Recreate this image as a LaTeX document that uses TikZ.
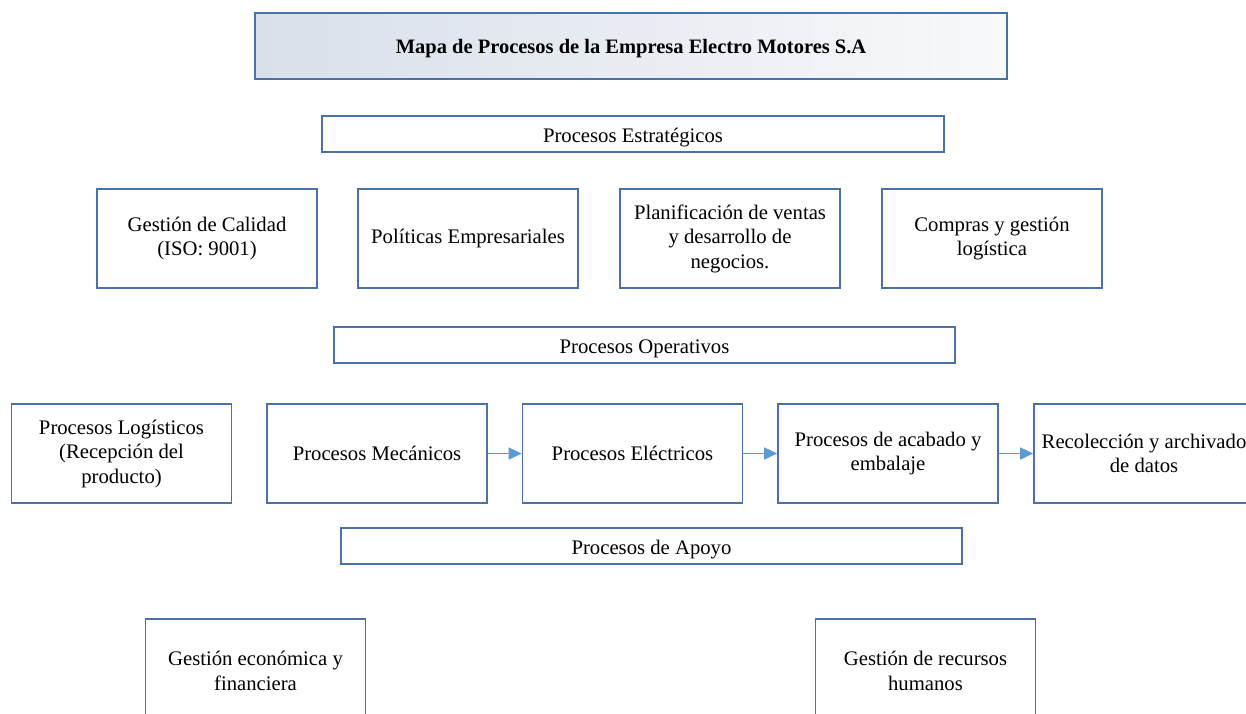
\documentclass[tikz,border=0pt]{standalone}
\usepackage{fontspec}
\setmainfont{Liberation Serif}
\usetikzlibrary{arrows.meta}
\definecolor{bc}{HTML}{4A72A8}
\definecolor{ac}{HTML}{5B9BD5}
\definecolor{tl}{HTML}{D9E0EA}
\definecolor{tr}{HTML}{F8F9FB}
\begin{document}
\begin{tikzpicture}[x=1pt,y=-1pt,
  every node/.style={font=\fontsize{20.7}{24.5}\selectfont, align=center, inner sep=0pt},
  pbox/.style={draw=bc, line width=1.7pt, fill=white, minimum width=220pt, minimum height=99pt},
  band/.style={draw=bc, line width=1.7pt, fill=white, minimum width=621pt, minimum height=36pt, text height=20pt, text depth=4pt},
  flow/.style={draw=ac, line width=1.7pt, -{Triangle[length=13pt,width=12pt]}}]
\useasboundingbox (0,0) rectangle (1246,713);
\begin{scope}
\clip (0,0) rectangle (1246,713);
\node[draw=bc, line width=1.7pt, left color=tl, right color=tr, minimum width=752pt, minimum height=66pt, text height=19pt, text depth=4pt, font=\fontsize{20.5}{24.5}\selectfont\bfseries] (title) at (631,46) {Mapa de Procesos de la Empresa Electro Motores S.A};
\node[band, minimum width=622pt] (estr) at (633,134) {Procesos Estratégicos};
\node[pbox] (r1a) at (207,238.5) {Gestión de Calidad\\(ISO: 9001)};
\node[pbox] (r1b) at (468,238.5) {Políticas Empresariales};
\node[pbox] (r1c) at (730,238.5) {Planificación de ventas\\y desarrollo de\\negocios.};
\node[pbox] (r1d) at (992,238.5) {Compras y gestión\\logística};
\node[band] (oper) at (644.5,345) {Procesos Operativos};
\node[pbox] (r2a) at (121.5,453.5) {Procesos Logísticos\\(Recepción del\\producto)};
\node[pbox] (r2b) at (377,453.5) {Procesos Mecánicos};
\node[pbox] (r2c) at (632.5,453.5) {Procesos Eléctricos};
\node[pbox] (r2d) at (888,453.5) {Procesos de acabado y\\embalaje};
\node[pbox] (r2e) at (1144,453.5) {Recolección y archivado\\de datos};
\node[band] (apoyo) at (651.5,546) {Procesos de Apoyo};
\node[pbox, minimum height=104pt] (b1) at (255.5,671) {Gestión económica y\\financiera};
\node[pbox, minimum height=104pt] (b2) at (925.5,671) {Gestión de recursos\\humanos};
\draw[flow] (r2b) -- (r2c);
\draw[flow] (r2c) -- (r2d);
\draw[flow] (r2d) -- (r2e);
\end{scope}
\end{tikzpicture}
\end{document}
